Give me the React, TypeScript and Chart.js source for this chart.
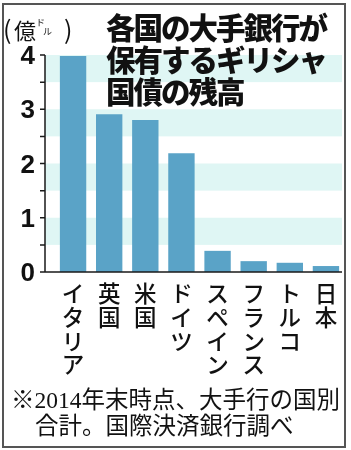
import React, { useEffect, useRef } from "react";
import { Chart, registerables } from "chart.js";

Chart.register(...registerables);

const countries = ["イタリア", "英国", "米国", "ドイツ", "スペイン", "フランス", "トルコ", "日本"];
const holdings = [3.98, 2.91, 2.8, 2.19, 0.39, 0.2, 0.17, 0.11];
const yMin = 0;
const yMax = 4;
const yStep = 0.5;
const bandRanges: [number, number][] = [
  [3.5, 4],
  [2.5, 3],
  [1.5, 2],
  [0.5, 1],
];
const titleLines = ["各国の大手銀行が", "保有するギリシャ", "国債の残高"];
const noteLines = ["※2014年末時点、大手行の国別", "合計。国際決済銀行調べ"];

const BAR_COLOR = "#5aa3c7";
const BAND_COLOR = "#dff6f4";
const AXIS_COLOR = "#1a1a1a";
const JP = '"Noto Sans CJK JP", "Noto Sans", sans-serif';

const decorPlugin = {
  id: "decor",
  beforeDatasetsDraw(chart: any) {
    const { ctx, chartArea, scales } = chart;
    const y = scales.y;
    const x0 = chartArea.left - 10;
    const x1 = chartArea.right - 2;
    ctx.save();
    ctx.fillStyle = BAND_COLOR;
    for (const [a, b] of bandRanges) {
      const top = y.getPixelForValue(b);
      const bot = y.getPixelForValue(a);
      ctx.fillRect(x0, top, x1 - x0, bot - top);
    }
    ctx.restore();
  },
  afterDatasetsDraw(chart: any) {
    const { ctx, chartArea, scales } = chart;
    const y = scales.y;
    const x0 = chartArea.left - 10;
    const x1 = chartArea.right - 2;
    ctx.save();
    ctx.strokeStyle = AXIS_COLOR;
    ctx.lineWidth = 1.5;
    ctx.beginPath();
    ctx.moveTo(x0, y.getPixelForValue(yMax));
    ctx.lineTo(x0, y.getPixelForValue(yMin));
    ctx.lineTo(x1, y.getPixelForValue(yMin));
    for (let v = yMin; v <= yMax + 1e-9; v += yStep) {
      const py = y.getPixelForValue(v);
      ctx.moveTo(x0 - 5, py);
      ctx.lineTo(x0, py);
    }
    ctx.stroke();
    ctx.restore();
  },
};

export default function App() {
  const ref = useRef<HTMLCanvasElement | null>(null);

  useEffect(() => {
    if (!ref.current) return;
    const chart = new Chart(ref.current, {
      type: "bar",
      data: {
        labels: countries.map((c) => Array.from(c)),
        datasets: [
          {
            data: holdings,
            backgroundColor: BAR_COLOR,
            barPercentage: 0.73,
            categoryPercentage: 1,
          },
        ],
      },
      options: {
        responsive: false,
        animation: false,
        devicePixelRatio: 1,
        layout: { padding: { top: 55, right: 7, left: 0, bottom: 0 } },
        plugins: { legend: { display: false }, tooltip: { enabled: false }, title: { display: false } },
        scales: {
          x: {
            type: "category",
            grid: { display: false, drawTicks: false },
            border: { display: false },
            ticks: {
              color: "#111",
              font: { family: JP, size: 22.5, lineHeight: 1.05, weight: 500 },
              padding: 10,
              maxRotation: 0,
              minRotation: 0,
              autoSkip: false,
            },
            afterFit: (s: any) => {
              s.height = 178;
            },
          },
          y: {
            min: yMin,
            max: yMax,
            grid: { display: false, drawTicks: false },
            border: { display: false },
            ticks: {
              stepSize: yStep,
              color: "#111",
              font: { family: '"Liberation Sans", Arial, sans-serif', size: 26, weight: "bold" },
              padding: 20,
              labelOffset: 2,
              callback: (v: any) => (Number(v) % 1 === 0 ? String(v) : ""),
            },
            afterFit: (s: any) => {
              s.width = 55;
            },
          },
        },
      },
      plugins: [decorPlugin],
    } as any);
    return () => chart.destroy();
  }, []);

  return (
    <div style={{ position: "absolute", left: 0, top: 0, width: 351, height: 450, background: "#fff", overflow: "hidden" }}>
      <canvas ref={ref} width={351} height={450} style={{ position: "absolute", left: 0, top: 0, width: 351, height: 450 }} />
      <div
        style={{
          position: "absolute",
          left: 2,
          top: 3,
          width: 344,
          height: 445,
          boxSizing: "border-box",
          border: "2px solid #555",
          pointerEvents: "none",
        }}
      />
      <div style={{ position: "absolute", left: 0, top: 0, fontFamily: JP, color: "#111" }}>
        <span style={{ position: "absolute", left: 3, top: 13, fontSize: 25, lineHeight: "30px" }}>(</span>
        <span style={{ position: "absolute", left: 14, top: 15, fontSize: 22, lineHeight: "28px" }}>億</span>
        <span style={{ position: "absolute", left: 36, top: 18, fontSize: 9, lineHeight: "10px" }}>ド</span>
        <span style={{ position: "absolute", left: 43, top: 27, fontSize: 9, lineHeight: "10px" }}>ル</span>
        <span style={{ position: "absolute", left: 64, top: 13, fontSize: 25, lineHeight: "30px" }}>)</span>
      </div>
      <div
        style={{
          position: "absolute",
          left: 106,
          top: 10,
          fontFamily: JP,
          fontWeight: 900,
          fontSize: 29.5,
          letterSpacing: -2,
          lineHeight: "32px",
          color: "#111",
          whiteSpace: "nowrap",
        }}
      >
        {titleLines.map((t, i) => (
          <div key={i}>{t}</div>
        ))}
      </div>
      <div
        style={{
          position: "absolute",
          left: 11,
          top: 387,
          fontFamily: '"Liberation Serif", "Noto Sans CJK JP", serif',
          fontSize: 23.5,
          lineHeight: "26px",
          color: "#111",
          whiteSpace: "nowrap",
        }}
      >
        <div>{noteLines[0]}</div>
        <div style={{ paddingLeft: 24 }}>{noteLines[1]}</div>
      </div>
    </div>
  );
}
